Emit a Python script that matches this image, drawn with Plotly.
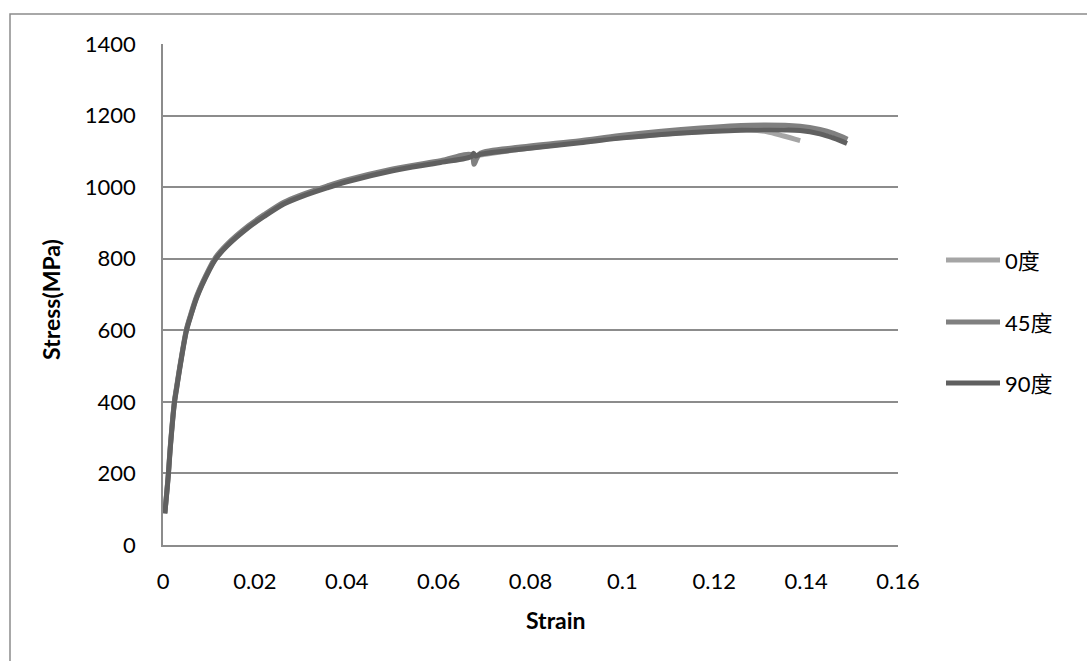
import plotly.graph_objects as go

# ---------------- data ----------------
series_names = ["0度", "45度", "90度"]

strain_0 = [0.0004, 0.0009, 0.0012, 0.0016, 0.0025, 0.0030, 0.0038, 0.0051, 0.0060,
            0.0074, 0.0100, 0.0114, 0.0140, 0.0186, 0.0220, 0.0263, 0.0300, 0.0357,
            0.0400, 0.0500, 0.0604, 0.0673, 0.0691, 0.0778, 0.0908, 0.0995, 0.1170,
            0.1278, 0.1315, 0.1351, 0.1387]
stress_0 = [88, 158, 203, 275, 400, 442, 507, 600, 640,
            695, 768, 800, 838, 889, 920, 955, 975, 1000,
            1017, 1048, 1071, 1086, 1090, 1106, 1126, 1138, 1155,
            1160, 1155, 1143, 1130]

strain_45 = [0.0004, 0.0009, 0.0012, 0.0016, 0.0025, 0.0030, 0.0038, 0.0051, 0.0060,
             0.0074, 0.0100, 0.0114, 0.0140, 0.0186, 0.0220, 0.0263, 0.0300, 0.0357,
             0.0400, 0.0500, 0.0604, 0.0672, 0.0677, 0.0683, 0.0691, 0.0778, 0.0908,
             0.0995, 0.1170, 0.1278, 0.1387, 0.1430, 0.1460, 0.1490]
stress_45 = [90, 160, 206, 278, 403, 445, 510, 603, 643,
             698, 771, 803, 841, 892, 923, 958, 978, 1003,
             1020, 1051, 1074, 1090, 1064, 1080, 1095, 1112, 1130,
             1144, 1165, 1173, 1170, 1161, 1150, 1134]

strain_90 = [0.0004, 0.0009, 0.0012, 0.0016, 0.0025, 0.0030, 0.0038, 0.0051, 0.0060,
             0.0074, 0.0100, 0.0114, 0.0140, 0.0186, 0.0220, 0.0263, 0.0300, 0.0357,
             0.0400, 0.0500, 0.0604, 0.0672, 0.0676, 0.0680, 0.0691, 0.0778, 0.0908,
             0.0995, 0.1170, 0.1278, 0.1387, 0.1430, 0.1460, 0.1489]
stress_90 = [88, 156, 201, 272, 398, 440, 505, 598, 638,
             693, 766, 798, 836, 887, 918, 953, 973, 998,
             1015, 1046, 1069, 1086, 1095, 1087, 1092, 1106, 1124,
             1137, 1154, 1160, 1158, 1149, 1137, 1122]

series_colors = ["#a5a5a5", "#808080", "#606060"]

x_ticks = [0, 0.02, 0.04, 0.06, 0.08, 0.1, 0.12, 0.14, 0.16]
x_ticklabels = ["0", "0.02", "0.04", "0.06", "0.08", "0.1", "0.12", "0.14", "0.16"]
y_ticks = [0, 200, 400, 600, 800, 1000, 1200, 1400]
x_title = "Strain"
y_title = "Stress(MPa)"

# ---------------- layout geometry (pixels) ----------------
W, H = 1087, 661
PL, PR, PT, PB = 163, 898, 44, 545   # plot area box in pixels
FONT = "Lato, 'Noto Sans CJK SC', sans-serif"


def px_x(p):
    return (p - PL) / (PR - PL)


def px_y(p):
    return (PB - p) / (PB - PT)


fig = go.Figure()
for name, xs, ys, col in zip(series_names,
                             [strain_0, strain_45, strain_90],
                             [stress_0, stress_45, stress_90],
                             series_colors):
    fig.add_trace(go.Scatter(
        x=xs, y=ys, mode="lines", name=name,
        line=dict(color=col, width=5, shape="spline", smoothing=0.9),
        showlegend=False, hoverinfo="x+y+name",
    ))

fig.update_layout(
    width=W, height=H,
    margin=dict(l=PL, r=W - PR, t=PT, b=H - PB, pad=0),
    paper_bgcolor="white", plot_bgcolor="white",
    font=dict(family=FONT, size=22, color="#000000"),
    showlegend=False,
)

fig.update_xaxes(
    range=[0, 0.16], tickvals=x_ticks, ticktext=x_ticklabels,
    showgrid=False, zeroline=False,
    showline=True, linecolor="#8c8c8c", linewidth=1.5,
    ticks="", ticklabelstandoff=16,
    tickfont=dict(family=FONT, size=22, color="#000000"),
)
fig.update_yaxes(
    range=[0, 1400], tickvals=y_ticks,
    showgrid=True, gridcolor="#8c8c8c", gridwidth=1.5,
    zeroline=False,
    showline=True, linecolor="#8c8c8c", linewidth=1.5,
    ticks="", ticklabelstandoff=21,
    tickfont=dict(family=FONT, size=22, color="#000000"),
)

annotations = [
    dict(text="<b>%s</b>" % x_title, xref="paper", yref="paper",
         x=px_x(556), y=px_y(620), xanchor="center", yanchor="middle",
         showarrow=False, font=dict(family=FONT, size=23, color="#000000")),
    dict(text="<b>%s</b>" % y_title, xref="paper", yref="paper",
         x=px_x(51), y=px_y(299), xanchor="center", yanchor="middle",
         textangle=-90, showarrow=False,
         font=dict(family=FONT, size=23, color="#000000")),
]

shapes = [
    # outer chart border (right/bottom edges fall outside the picture)
    dict(type="rect", xref="paper", yref="paper",
         x0=px_x(10), x1=px_x(W + 40), y0=px_y(H + 40), y1=px_y(14),
         line=dict(color="#8c8c8c", width=1.5), fillcolor="rgba(0,0,0,0)",
         layer="below"),
]

# custom legend (long line samples as in the reference)
legend_rows = [260, 322, 383]
for name, col, yy in zip(series_names, series_colors, legend_rows):
    shapes.append(dict(type="line", xref="paper", yref="paper",
                       x0=px_x(946), x1=px_x(1000), y0=px_y(yy), y1=px_y(yy),
                       line=dict(color=col, width=5)))
    annotations.append(dict(text=name, xref="paper", yref="paper",
                            x=px_x(1003), y=px_y(yy), xanchor="left",
                            yanchor="middle", showarrow=False,
                            font=dict(family=FONT, size=22, color="#000000")))

fig.update_layout(annotations=annotations, shapes=shapes)

fig.write_html("out.html")
